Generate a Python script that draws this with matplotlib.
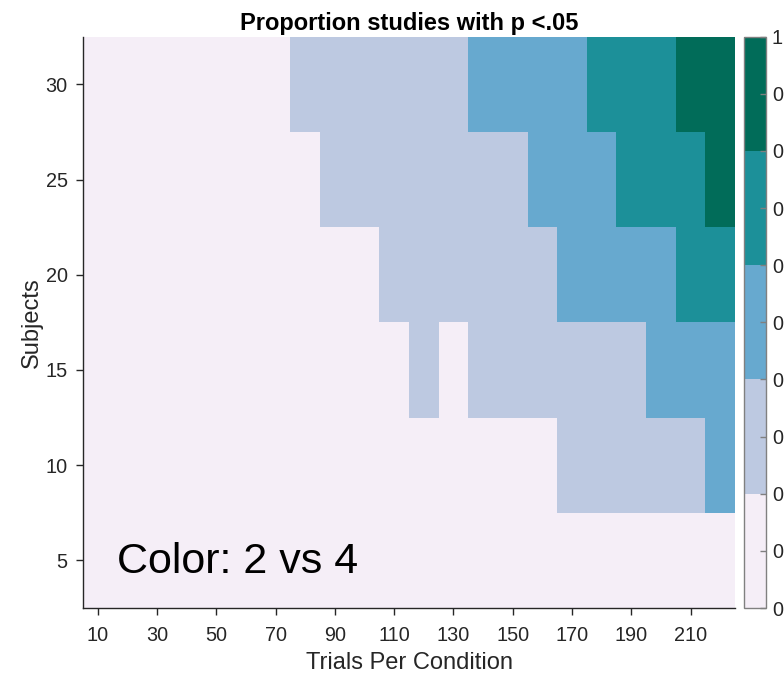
import numpy as np
import matplotlib
matplotlib.use("Agg")
import matplotlib.pyplot as plt
from matplotlib.colors import ListedColormap, BoundaryNorm

plt.rcParams['font.family'] = ['Liberation Sans', 'DejaVu Sans']

trials = [10, 20, 30, 40, 50, 60, 70, 80, 90, 100, 110, 120, 130, 140, 150, 160, 170, 180, 190, 200, 210, 220]
subjects = [5, 10, 15, 20, 25, 30]

prop_s5 = [0.05, 0.05, 0.06, 0.06, 0.07, 0.07, 0.08, 0.08, 0.09, 0.09, 0.10, 0.10, 0.11, 0.11, 0.12, 0.12, 0.13, 0.13, 0.14, 0.15, 0.16, 0.17]
prop_s10 = [0.05, 0.06, 0.07, 0.08, 0.09, 0.10, 0.11, 0.12, 0.13, 0.14, 0.15, 0.16, 0.17, 0.17, 0.18, 0.19, 0.22, 0.26, 0.30, 0.34, 0.38, 0.42]
prop_s15 = [0.06, 0.07, 0.08, 0.10, 0.11, 0.13, 0.14, 0.16, 0.17, 0.18, 0.19, 0.21, 0.19, 0.23, 0.26, 0.29, 0.32, 0.35, 0.38, 0.42, 0.47, 0.52]
prop_s20 = [0.06, 0.08, 0.10, 0.12, 0.13, 0.15, 0.16, 0.17, 0.18, 0.19, 0.22, 0.26, 0.29, 0.32, 0.35, 0.38, 0.42, 0.47, 0.52, 0.57, 0.62, 0.66]
prop_s25 = [0.07, 0.09, 0.11, 0.13, 0.15, 0.17, 0.18, 0.19, 0.22, 0.26, 0.29, 0.32, 0.34, 0.36, 0.39, 0.43, 0.49, 0.56, 0.62, 0.68, 0.75, 0.81]
prop_s30 = [0.07, 0.09, 0.11, 0.13, 0.15, 0.17, 0.19, 0.22, 0.26, 0.29, 0.33, 0.36, 0.39, 0.43, 0.48, 0.53, 0.58, 0.63, 0.70, 0.76, 0.82, 0.86]

xtick_vals = [10, 30, 50, 70, 90, 110, 130, 150, 170, 190, 210]
ytick_vals = [5, 10, 15, 20, 25, 30]
cbar_ticks = [0, 0.1, 0.2, 0.3, 0.4, 0.5, 0.6, 0.7, 0.8, 0.9, 1.0]
cbar_labels = ['0', '0.1', '0.2', '0.3', '0.4', '0.5', '0.6', '0.7', '0.8', '0.9', '1']

colors = ['#f5eef7', '#bdc9e1', '#67a9cf', '#1c9099', '#016c59']
cmap = ListedColormap(colors)
norm = BoundaryNorm([0, 0.2, 0.4, 0.6, 0.8, 1.0], cmap.N)

Z = np.array([prop_s5, prop_s10, prop_s15, prop_s20, prop_s25, prop_s30])
tx = np.array(trials, dtype=float)
sy = np.array(subjects, dtype=float)
xedges = np.concatenate([tx - 5, [tx[-1] + 5]])
yedges = np.concatenate([sy - 2.5, [sy[-1] + 2.5]])

W, H = 784, 674
fig = plt.figure(figsize=(W / 100, H / 100), dpi=100)
ax = fig.add_axes([83 / W, 1 - 608 / H, (735 - 83) / W, (608 - 36.7) / H])
cax = fig.add_axes([744.3 / W, 1 - 608 / H, (766.3 - 744.3) / W, (608 - 36.7) / H])

mesh = ax.pcolormesh(xedges, yedges, Z, cmap=cmap, norm=norm, shading='flat')
ax.set_xlim(xedges[0], xedges[-1])
ax.set_ylim(yedges[0], yedges[-1])

ax.set_xticks(xtick_vals)
ax.set_yticks(ytick_vals)
tc = '#262626'
ax.tick_params(direction='out', length=5, width=1, colors=tc, labelsize=14.3)
ax.tick_params(axis='x', pad=8)
ax.tick_params(axis='y', pad=6)
for s in ['top', 'right']:
    ax.spines[s].set_visible(False)
for s in ['left', 'bottom']:
    ax.spines[s].set_color(tc)
    ax.spines[s].set_linewidth(1)

ax.set_xlabel('Trials Per Condition', fontsize=17, color=tc, va='center')
ax.xaxis.set_label_coords(0.5, -0.097)
ax.set_ylabel('Subjects', fontsize=17, color=tc, labelpad=2)
ax.set_title('Proportion studies with p <.05', fontsize=17, fontweight='bold', color='black', pad=4.5)

ax.text(0.052, 0.061, 'Color: 2 vs 4', transform=ax.transAxes, fontsize=31,
        color='black', ha='left', va='baseline')

cb = fig.colorbar(mesh, cax=cax, ticks=cbar_ticks)
cb.ax.set_yticklabels(cbar_labels)
cb.outline.set_edgecolor('#808080')
cb.outline.set_linewidth(1)
cb.ax.tick_params(direction='in', length=4, width=1, color='#808080', labelcolor=tc, labelsize=14.3, pad=4)

fig.savefig('out.png', dpi=100)
